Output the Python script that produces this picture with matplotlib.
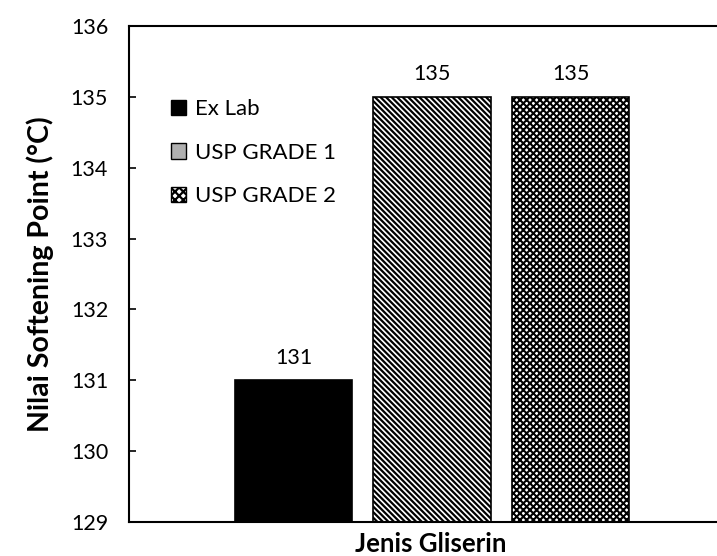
import matplotlib
matplotlib.use("Agg")
import matplotlib.pyplot as plt
from matplotlib.patches import Patch

plt.rcParams['font.family'] = ['Lato', 'DejaVu Sans']
plt.rcParams['hatch.linewidth'] = 1.6

categories = ["Ex Lab", "USP GRADE 1", "USP GRADE 2"]
values = [131, 135, 135]
hatches = [None, "\\" * 6, "x" * 5]
hatch_lw = [None, 1.6, 1.5]

fig = plt.figure(figsize=(7.17, 5.56), dpi=100)
ax = fig.add_axes([129 / 717, 34 / 556, 1 - 129 / 717, 496 / 556])

xs = [0, 1, 2]
for x, v, h, lw in zip(xs, values, hatches, hatch_lw):
    if h is None:
        ax.bar(x, v - 129, bottom=129, width=0.845, color="black", edgecolor="black", linewidth=1.2)
    else:
        b = ax.bar(x, v - 129, bottom=129, width=0.845, color="white", edgecolor="black",
                   hatch=h, linewidth=1.2)
        for p in b:
            p.set_hatch_linewidth(lw)
    ax.annotate(str(v), (x, v), xytext=(0, 9), textcoords="offset points",
                ha="center", va="bottom", fontsize=15.5)

ax.set_ylim(129, 136)
ax.set_xlim(-1.188, 3.058)
ax.set_yticks(range(129, 137))
ax.tick_params(axis="y", direction="in", length=5, width=1.2, labelsize=15.5, pad=15)
ax.set_xticks([])
ax.spines["right"].set_visible(False)
for s in ["left", "top", "bottom"]:
    ax.spines[s].set_linewidth(1.5)

ax.set_ylabel("Nilai Softening Point (\u00b0C)", fontsize=20.5, fontweight="bold", labelpad=12)
ax.set_xlabel("Jenis Gliserin", fontsize=18.5, fontweight="bold", va="baseline")
ax.xaxis.set_label_coords(0.514, -30 / 496)

handles = [
    Patch(facecolor="black", edgecolor="black"),
    Patch(facecolor="#b0b0b0", edgecolor="black"),
    Patch(facecolor="white", edgecolor="black", hatch="xxxx"),
]
ax.legend(handles, categories, loc="upper left", bbox_to_anchor=(0.071, 0.852), frameon=False,
          borderpad=0, borderaxespad=0, fontsize=16, handlelength=0.7, handleheight=0.7,
          handletextpad=0.4, labelspacing=1.05)

fig.savefig("out.png", dpi=100)
